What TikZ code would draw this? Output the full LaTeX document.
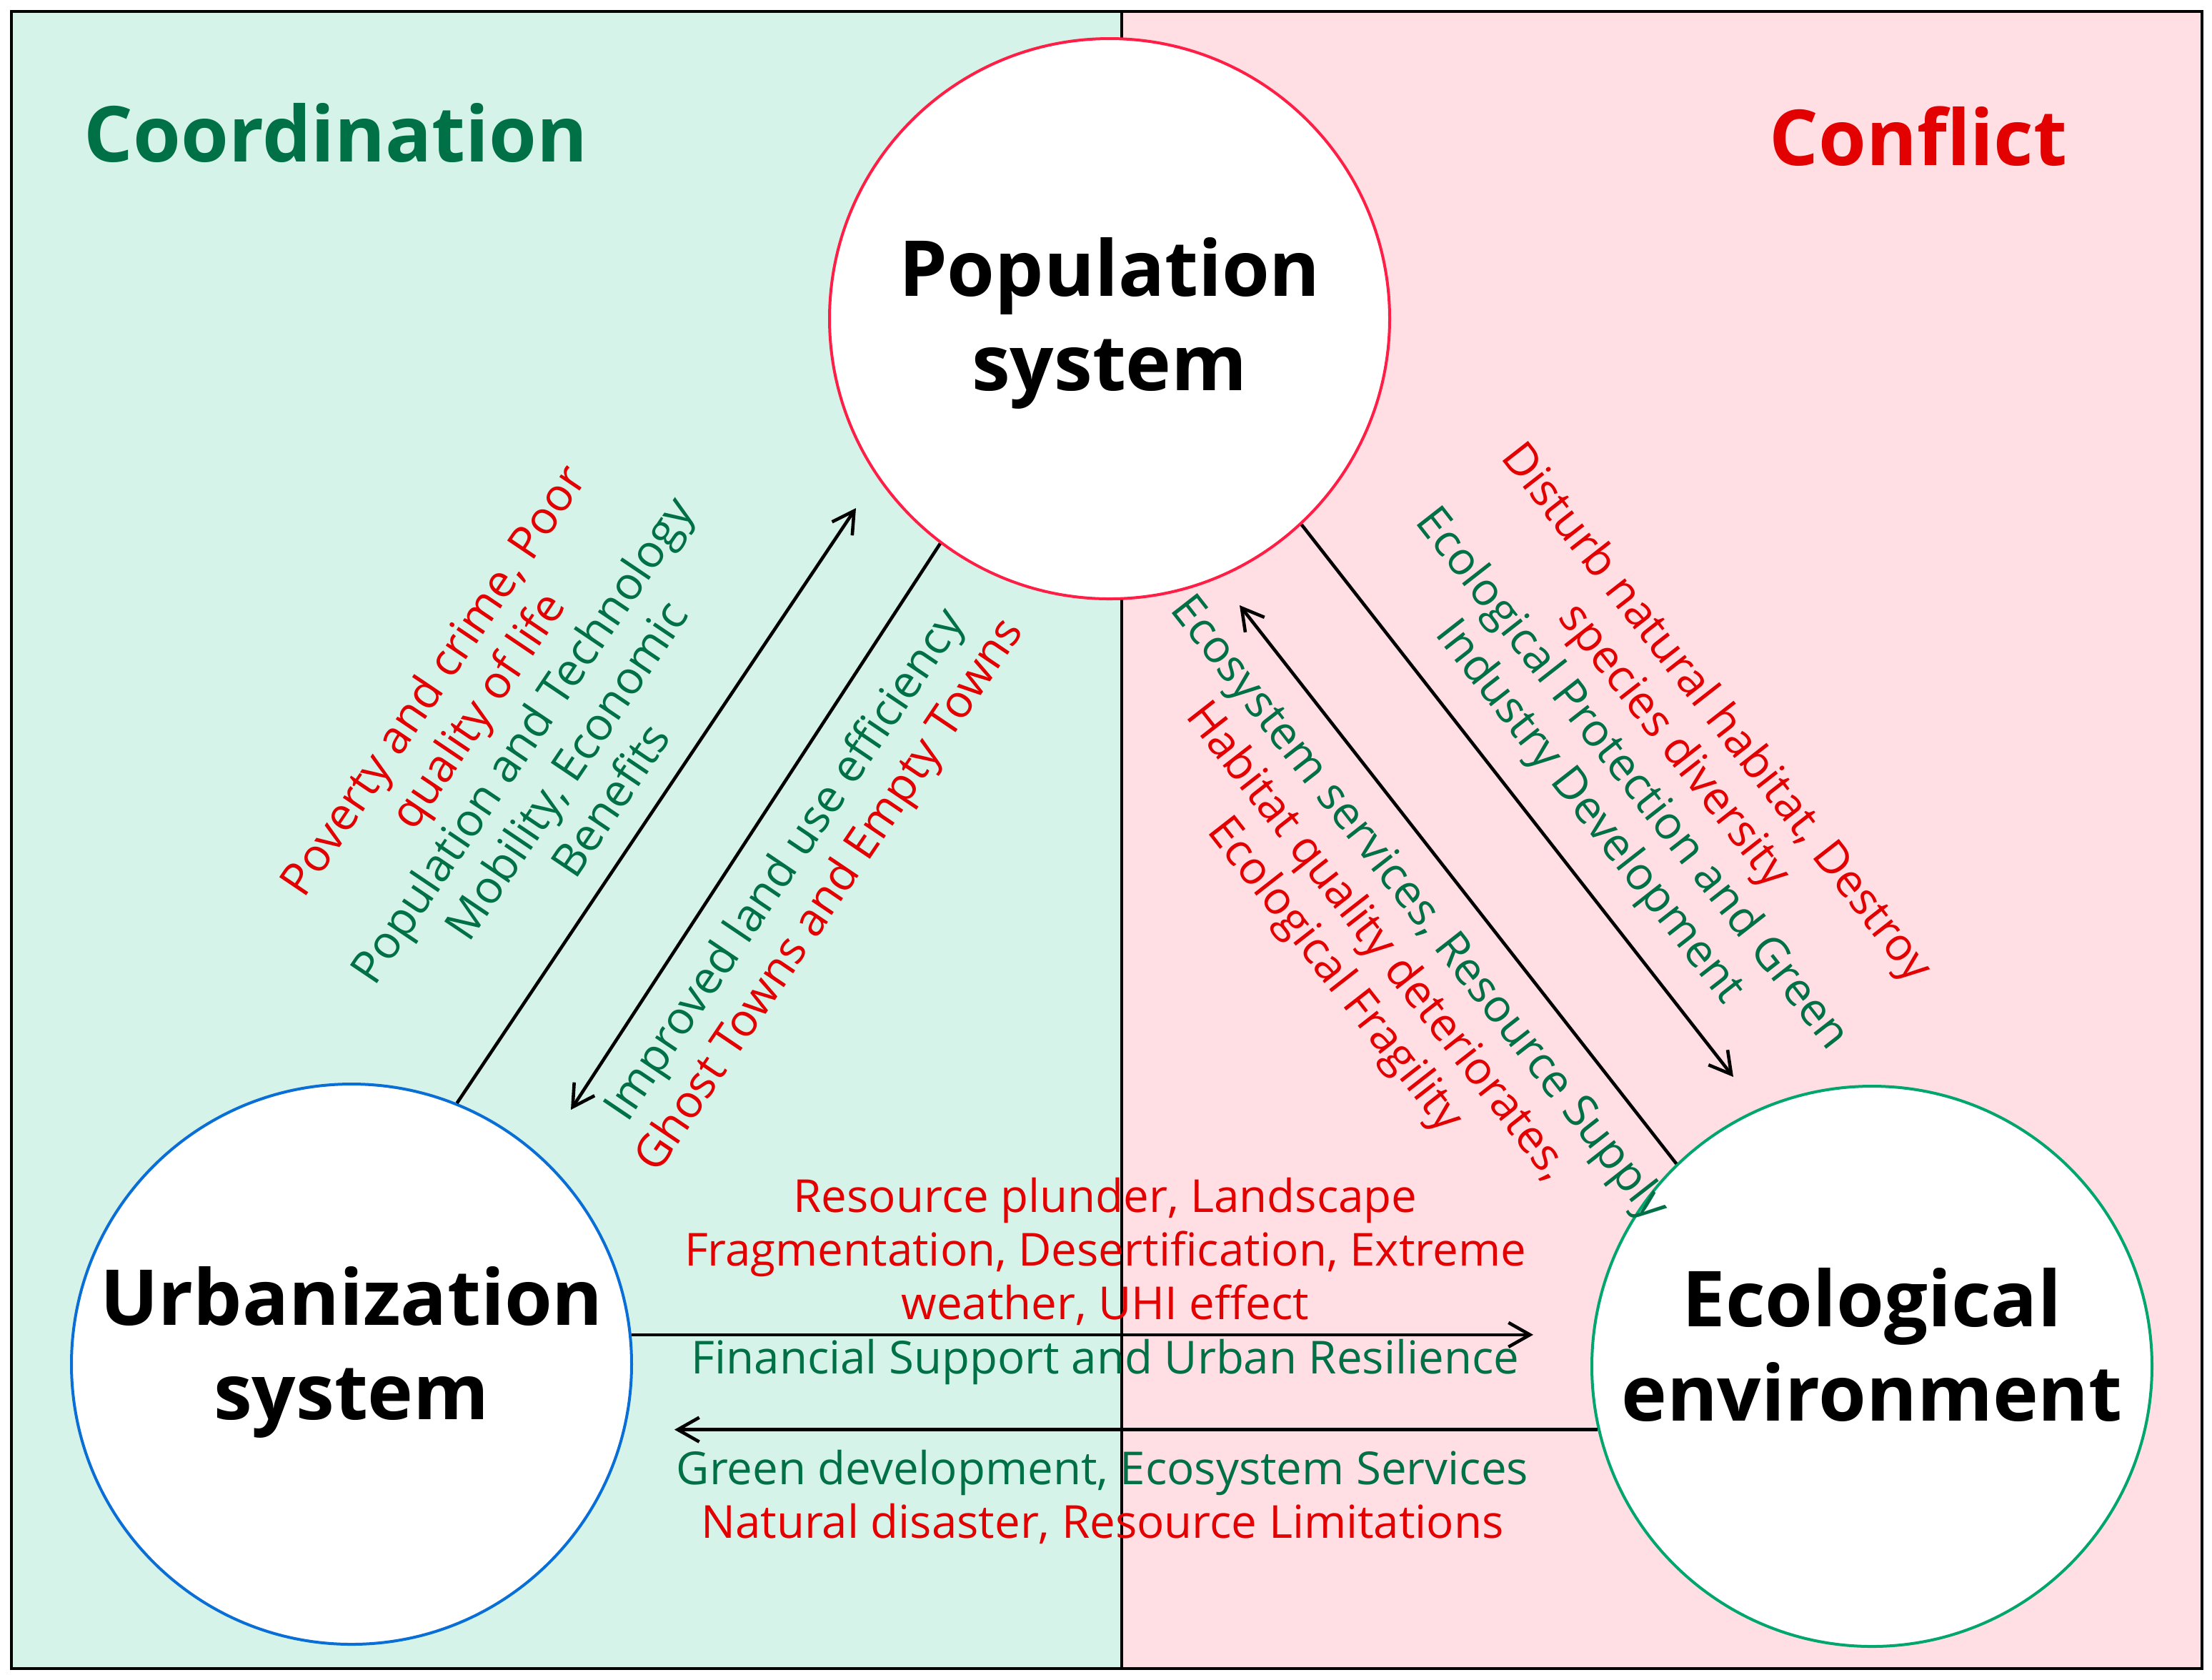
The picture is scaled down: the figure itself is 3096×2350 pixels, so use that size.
\documentclass[tikz,border=0pt]{standalone}
\usepackage{fontspec}
\setmainfont{Open Sans}
\usetikzlibrary{arrows.meta}
\definecolor{mint}{RGB}{213,243,233}
\definecolor{pinkbg}{RGB}{255,223,228}
\definecolor{dgreen}{RGB}{0,112,70}
\definecolor{dred}{RGB}{226,0,0}
\definecolor{popred}{RGB}{255,30,70}
\definecolor{ublue}{RGB}{10,110,215}
\definecolor{egreen}{RGB}{0,166,110}
\begin{document}
\begin{tikzpicture}[x=0.25pt,y=-0.25pt,
  sys/.style={circle, draw, fill=white, line width=1pt, minimum size=196pt, inner sep=0pt},
  systxt/.style={font=\bfseries\fontsize{27}{33}\selectfont, align=center, text=black, inner sep=0pt},
  lab/.style={font=\fontsize{15.9}{18.75}\selectfont, align=center, inner sep=0pt},
  ttl/.style={font=\bfseries\fontsize{27}{32}\selectfont, inner sep=0pt},
  conn/.style={line width=1.15pt, -{Straight Barb[length=7.5pt,width=8.5pt,line width=1.15pt]}}
]
\useasboundingbox (0,0) rectangle (3096,2350);
\fill[mint] (16,16) rectangle (1570,2335);
\fill[pinkbg] (1570,16) rectangle (3082,2335);
\draw[line width=1pt] (1570,16) -- (1570,2335);
\draw[line width=1.2pt] (16,16) rectangle (3082,2335);

\node[ttl, text=dgreen] (tco) at (470,186) {Coordination};
\node[ttl, text=dred] (tcf) at (2685,191) {Conflict};

\node[sys, draw=popred] (pop) at (1553,446) {};
\node[sys, draw=ublue] (urb) at (492,1909) {};
\node[sys, draw=egreen] (eco) at (2620,1912) {};
\node[systxt] (popt) at (1553,452) {Population\\system};
\node[systxt] (urbt) at (492,1892) {Urbanization\\system};
\node[systxt] (ecot) at (2620,1882) {Ecological\\environment};

\coordinate (e1) at (1198,711);
\coordinate (e2) at (799,1553);
\coordinate (e3) at (2426,1507);
\coordinate (e4) at (1735,847);
\coordinate (e5) at (2146,1866);
\coordinate (e6) at (944,2004);

\draw[conn] (urb.68.7) -- (e1);
\draw[conn] (pop.233.9) -- (e2);
\draw[conn] (pop.313.8) -- (e3);
\draw[conn] (eco.134.4) -- (e4);
\draw[conn] (urb.6.3) -- (urb.6.3 -| e5);
\draw[conn] (eco.193.5) -- (eco.193.5 -| e6);

\node[lab, rotate=56] (l1) at (729,1035) {\textcolor{dred}{Poverty and crime, Poor}\\\textcolor{dred}{quality of life}\\\textcolor{dgreen}{Population and Technology}\\\textcolor{dgreen}{Mobility, Economic}\\\textcolor{dgreen}{Benefits}};
\node[lab, rotate=56] (l2) at (1132,1233) {\textcolor{dgreen}{Improved land use efficiency}\\\textcolor{dred}{Ghost Towns and Empty Towns}};
\node[lab, rotate=-52] (r1) at (2312,1068) {\textcolor{dred}{Disturb natural habitat, Destroy}\\\textcolor{dred}{species diversity}\\\textcolor{dgreen}{Ecological Protection and Green}\\\textcolor{dgreen}{Industry Development}};
\node[lab, rotate=-52] (r2) at (1926,1319) {\textcolor{dgreen}{Ecosystem services, Resource Supply}\\\textcolor{dred}{Habitat quality deteriorates,}\\\textcolor{dred}{Ecological Fragility}};
\node[lab, text=dred] (b1) at (1547,1751) {Resource plunder, Landscape\\Fragmentation, Desertification, Extreme\\weather, UHI effect};
\node[lab, text=dgreen] (b2) at (1547,1906) {Financial Support and Urban Resilience};
\node[lab] (b3) at (1543,2095) {\textcolor{dgreen}{Green development, Ecosystem Services}\\\textcolor{dred}{Natural disaster, Resource Limitations}};
\end{tikzpicture}
\end{document}
